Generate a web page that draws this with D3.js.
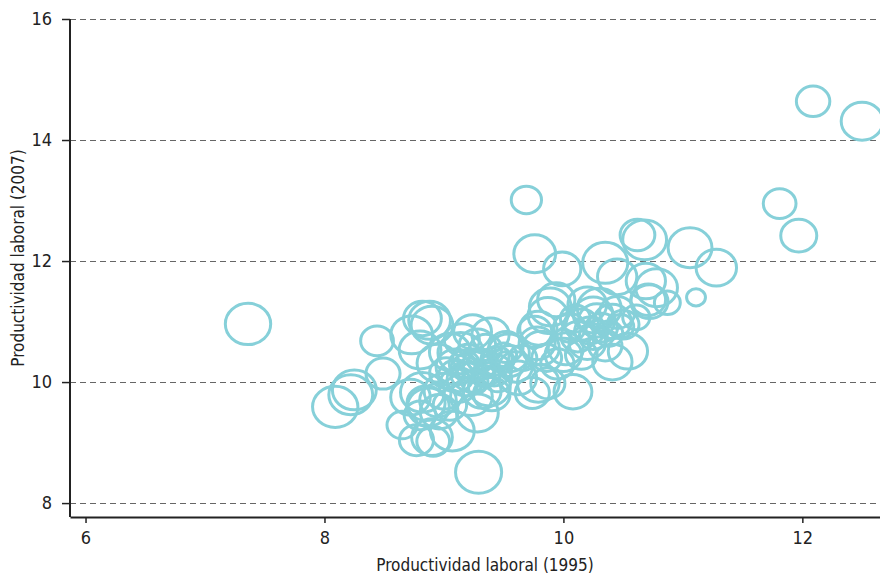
<!DOCTYPE html>
<html>
<head>
<meta charset="utf-8">
<script src="https://d3js.org/d3.v7.min.js"></script>
<style>
  body { margin: 0; background: #fff; }
  text { font-family: "DejaVu Sans Condensed", "Liberation Sans Narrow", sans-serif; fill: #222; }
</style>
</head>
<body>
<div id="chart-container"></div>
<script>
// productividad laboral 1995 (x), 2007 (y), bubble weight
const prod1995 = [
  7.36, 12.09, 12.50, 11.81, 11.97, 9.69, 9.76, 9.99, 10.35, 10.62,
  10.68, 11.06, 11.28, 11.11, 10.45, 10.69, 10.78, 10.87, 10.71, 9.89,
  9.94, 10.20, 10.25, 10.41, 10.54, 10.41, 10.08, 8.09, 8.22, 8.25,
  8.44, 8.49, 8.73, 8.82, 8.88, 8.90, 8.65, 8.77, 8.91, 8.82,
  9.29, 9.07, 8.80, 8.95, 9.24, 9.76, 9.14, 9.24, 9.54, 9.55,
  9.78, 9.79, 8.87, 8.96, 8.90, 9.28, 9.32, 9.39, 9.52, 9.79,
  9.81, 9.74, 9.87, 9.51, 9.23, 9.38, 9.62, 10.30, 10.61, 10.72,
  10.15, 10.22, 10.32, 10.28, 10.38, 10.12, 10.48, 9.87, 10.00, 9.95,
  9.86, 8.72, 8.95, 9.05, 8.80, 9.10, 9.18, 9.30, 9.35, 9.42,
  9.20, 9.12, 9.45, 9.28, 9.02, 9.50, 9.15, 9.33, 9.40, 9.05,
  10.02, 10.15, 10.20, 10.35, 10.50, 10.45, 9.22, 9.30, 9.36, 9.17,
  9.26, 9.44, 9.10, 9.00, 8.85, 10.10, 10.25, 10.05, 9.60, 9.66
];
const prod2007 = [
  10.96, 14.64, 14.31, 12.95, 12.42, 13.01, 12.12, 11.87, 11.97, 12.43,
  12.35, 12.22, 11.89, 11.40, 11.74, 11.67, 11.56, 11.31, 11.36, 11.24,
  11.36, 11.28, 11.11, 11.00, 10.51, 10.33, 9.84, 9.59, 9.79, 9.87,
  10.68, 10.14, 10.78, 11.05, 11.02, 10.94, 9.29, 9.04, 9.02, 9.83,
  8.51, 9.19, 10.53, 10.31, 10.83, 10.83, 10.48, 10.17, 10.48, 10.35,
  10.64, 9.98, 9.59, 9.51, 9.09, 9.49, 9.85, 10.78, 10.58, 10.89,
  10.56, 9.82, 9.98, 10.36, 9.76, 9.92, 10.07, 11.22, 11.07, 11.33,
  10.95, 10.85, 10.90, 11.02, 10.80, 10.75, 10.92, 11.10, 10.45, 10.30,
  10.40, 9.75, 9.70, 9.62, 9.45, 10.25, 10.05, 10.30, 10.55, 10.20,
  10.40, 9.95, 10.05, 10.60, 10.15, 10.45, 10.70, 10.10, 9.80, 10.50,
  10.55, 10.45, 10.65, 10.60, 10.95, 11.15, 10.20, 10.35, 10.15, 10.30,
  10.00, 10.35, 10.10, 9.85, 9.65, 11.05, 10.75, 10.90, 10.25, 10.40
];
const weights = [
  92, 50, 78, 48, 58, 41, 78, 62, 91, 54,
  86, 86, 73, 16, 69, 69, 78, 30, 54, 78,
  62, 67, 70, 64, 69, 69, 64, 92, 86, 86,
  48, 52, 78, 64, 78, 78, 41, 52, 48, 86,
  95, 86, 78, 78, 64, 52, 92, 90, 78, 52,
  58, 78, 78, 64, 74, 78, 64, 62, 52, 62,
  62, 52, 52, 16, 78, 78, 62, 86, 33, 62,
  52, 40, 45, 60, 35, 50, 30, 70, 60, 50,
  40, 70, 60, 50, 45, 70, 60, 50, 45, 55,
  40, 65, 35, 60, 50, 30, 55, 25, 60, 75,
  55, 45, 60, 50, 45, 55, 30, 25, 35, 40,
  30, 45, 55, 70, 65, 40, 35, 45, 50, 35
];

const xTicks = [6, 8, 10, 12];
const yTicks = [8, 10, 12, 14, 16];
const xAxisName = "Productividad laboral (1995)";
const yAxisName = "Productividad laboral (2007)";

const data = prod1995.map((d, i) => ({ x: d, y: prod2007[i], w: weights[i] }));

const margin = { top: 19, right: 0, bottom: 61, left: 70 };
const width = 880 - margin.left - margin.right;
const height = 578 - margin.top - margin.bottom;

var svg = d3.select("#chart-container")
    .append("svg")
    .attr("width", 880)
    .attr("height", 578)
    .append("g")
    .attr("transform", `translate(${margin.left}, ${margin.top})`);

var xScale = d3.scaleLinear()
    .domain([5.87, 12.65])
    .range([0, width]);

var yScale = d3.scaleLinear()
    .domain([7.77, 16])
    .range([height, 0]);

var rScale = d3.scaleSqrt()
    .domain([0, 100])
    .range([0, 21.5]);

// dashed gridlines
svg.append("g")
    .attr("class", "grid")
    .selectAll("line")
    .data(yTicks)
    .join("line")
    .attr("x1", 0)
    .attr("x2", width)
    .attr("y1", d => Math.round(yScale(d)) + 0.5)
    .attr("y2", d => Math.round(yScale(d)) + 0.5)
    .attr("stroke", "#666")
    .attr("stroke-width", 1.2)
    .attr("stroke-dasharray", "6,4");

// bubbles
svg.append("g")
    .selectAll("ellipse")
    .data(data)
    .join("ellipse")
    .attr("cx", d => xScale(d.x))
    .attr("cy", d => yScale(d.y))
    .attr("rx", d => rScale(d.w) * 1.1)
    .attr("ry", d => rScale(d.w))
    .attr("fill", "none")
    .attr("stroke", "#86d0d9")
    .attr("stroke-width", 3);

// x axis
var xAxis = svg.append("g")
    .attr("transform", `translate(0, ${height})`)
    .call(d3.axisBottom(xScale).tickValues(xTicks).tickFormat(d3.format("d"))
        .tickSize(6).tickPadding(8).tickSizeOuter(0))
    .style("font-size", "18px");
xAxis.select(".domain").attr("stroke", "#222").attr("stroke-width", 2);
xAxis.selectAll(".tick line").attr("stroke", "#222").attr("stroke-width", 1.5);

// y axis
var yAxis = svg.append("g")
    .call(d3.axisLeft(yScale).tickValues(yTicks).tickFormat(d3.format("d"))
        .tickSize(8).tickPadding(10).tickSizeOuter(0))
    .style("font-size", "18px");
yAxis.select(".domain").attr("stroke", "#222").attr("stroke-width", 2)
    .attr("d", `M0,${yScale(16)}V${height}`);
yAxis.selectAll(".tick line").attr("stroke", "#222").attr("stroke-width", 1.5);

svg.selectAll(".tick text").attr("fill", "#222");

svg.append("text")
    .attr("x", 485 - margin.left)
    .attr("y", height + 54)
    .attr("text-anchor", "middle")
    .style("font-size", "17px")
    .text(xAxisName);

svg.append("text")
    .attr("transform", "rotate(-90)")
    .attr("x", -(258 - margin.top))
    .attr("y", -46)
    .attr("text-anchor", "middle")
    .style("font-size", "17px")
    .text(yAxisName);
</script>
</body>
</html>
